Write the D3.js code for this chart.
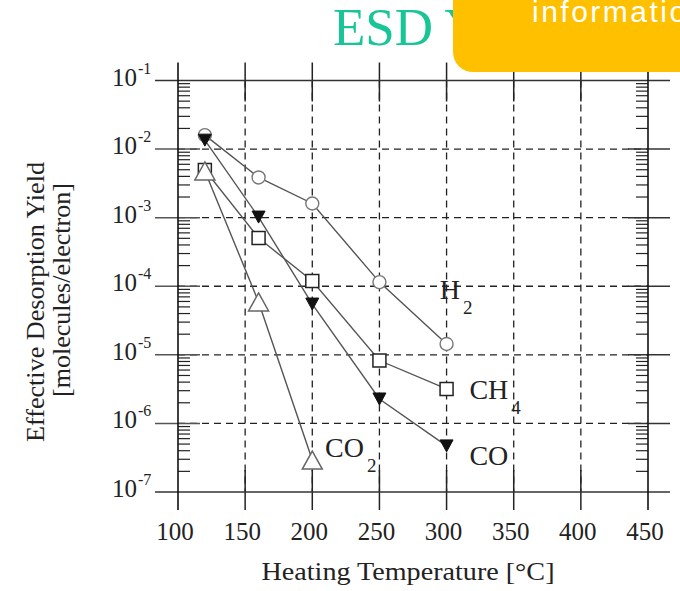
<!DOCTYPE html>
<html>
<head>
<meta charset="utf-8">
<script src="https://cdn.jsdelivr.net/npm/d3@7"></script>
<style>
  body { margin: 0; background: #fff; }
  svg { display: block; }
</style>
</head>
<body>
<svg id="chart" width="680" height="591"></svg>
<script>
// temperatures (deg C) and yields (molecules/electron)
var tempsH2 = [120, 160, 200, 250, 300];
var yieldH2 = [1.6e-2, 3.86e-3, 1.61e-3, 1.15e-4, 1.44e-5];

var tempsCH4 = [120, 160, 200, 250, 300];
var yieldCH4 = [4.95e-3, 5.06e-4, 1.19e-4, 8.26e-6, 3.18e-6];

var tempsCO = [120, 160, 200, 250, 300];
var yieldCO = [1.35e-2, 1.02e-3, 5.5e-5, 2.27e-6, 4.7e-7];

var tempsCO2 = [120, 160, 200];
var yieldCO2 = [4.8e-3, 5.9e-5, 2.92e-7];

var xTicks = [100, 150, 200, 250, 300, 350, 400, 450];
var yExps = [-1, -2, -3, -4, -5, -6, -7];

// label anchors in data space (temperature, yield)
var labelNames = ["H", "CH", "CO", "CO"];
var labelSubs = ["2", "4", "", "2"];
var labelTemps = [295, 317, 317, 209.5];
var labelYields = [6.5e-5, 2.26e-6, 2.45e-7, 3.2e-7];

var svg = d3.select("#chart");
var serif = "'Liberation Serif', 'Times New Roman', serif";

var x = d3.scaleLinear().domain([100, 450]).range([178, 648]);
var y = d3.scaleLog().domain([1e-7, 1e-1]).range([492, 80.5]);

var xLeft = x(100), xRight = x(450), yTop = y(1e-1), yBot = y(1e-7);

// title (partly hidden behind the banner)
svg.append("text")
    .attr("x", 333)
    .attr("y", 45)
    .attr("font-family", serif)
    .attr("font-size", 53)
    .attr("fill", "#17c596")
    .text("ESD Yield");

var g = svg.append("g");

// dashed grid
g.selectAll(".vgrid")
    .data(xTicks.slice(1, -1))
    .enter()
    .append("line")
    .attr("x1", function (d) { return x(d); })
    .attr("x2", function (d) { return x(d); })
    .attr("y1", yTop)
    .attr("y2", yBot)
    .attr("stroke", "#222")
    .attr("stroke-width", 1.3)
    .attr("stroke-dasharray", "7,5");

g.selectAll(".hgrid")
    .data(yExps.slice(1, -1))
    .enter()
    .append("line")
    .attr("x1", xLeft)
    .attr("x2", xRight)
    .attr("y1", function (d) { return y(Math.pow(10, d)); })
    .attr("y2", function (d) { return y(Math.pow(10, d)); })
    .attr("stroke", "#222")
    .attr("stroke-width", 1.3)
    .attr("stroke-dasharray", "7,5");

// solid major ticks at top and bottom
xTicks.slice(1, -1).forEach(function (t) {
    g.append("line").attr("x1", x(t)).attr("x2", x(t)).attr("y1", yTop - 18).attr("y2", yTop + 21)
        .attr("stroke", "#222").attr("stroke-width", 1.5);
    g.append("line").attr("x1", x(t)).attr("x2", x(t)).attr("y1", yBot - 22).attr("y2", yBot + 18)
        .attr("stroke", "#222").attr("stroke-width", 1.5);
});

// decade ticks left and right
yExps.slice(1, -1).forEach(function (e) {
    var yy = y(Math.pow(10, e));
    g.append("line").attr("x1", xLeft - 23).attr("x2", xLeft + 22).attr("y1", yy).attr("y2", yy)
        .attr("stroke", "#555").attr("stroke-width", 1.5);
    g.append("line").attr("x1", xRight - 20).attr("x2", xRight + 22).attr("y1", yy).attr("y2", yy)
        .attr("stroke", "#333").attr("stroke-width", 1.5);
});

// minor log ticks
var minor = [];
for (var e = -7; e < -1; e++) {
    for (var m = 2; m < 10; m++) minor.push(m * Math.pow(10, e));
}
g.selectAll(".minl")
    .data(minor)
    .enter()
    .append("line")
    .attr("x1", xLeft)
    .attr("x2", xLeft + 12)
    .attr("y1", function (d) { return y(d); })
    .attr("y2", function (d) { return y(d); })
    .attr("stroke", "#222")
    .attr("stroke-width", 1.2);
g.selectAll(".minr")
    .data(minor)
    .enter()
    .append("line")
    .attr("x1", xRight - 12)
    .attr("x2", xRight)
    .attr("y1", function (d) { return y(d); })
    .attr("y2", function (d) { return y(d); })
    .attr("stroke", "#222")
    .attr("stroke-width", 1.2);

// frame
g.append("line").attr("x1", xLeft - 23).attr("x2", xRight + 22).attr("y1", yTop).attr("y2", yTop)
    .attr("stroke", "#333").attr("stroke-width", 1.5);
g.append("line").attr("x1", xLeft - 23).attr("x2", xRight + 22).attr("y1", yBot).attr("y2", yBot)
    .attr("stroke", "#333").attr("stroke-width", 1.5);
g.append("line").attr("x1", xLeft).attr("x2", xLeft).attr("y1", yTop - 18).attr("y2", yBot + 18)
    .attr("stroke", "#111").attr("stroke-width", 1.6);
g.append("line").attr("x1", xRight).attr("x2", xRight).attr("y1", yTop - 18).attr("y2", yBot + 18)
    .attr("stroke", "#111").attr("stroke-width", 1.6);

// tick labels
g.selectAll(".xlab")
    .data(xTicks)
    .enter()
    .append("text")
    .attr("x", function (d) { return x(d) - 3; })
    .attr("y", 540)
    .attr("text-anchor", "middle")
    .attr("font-family", serif)
    .attr("font-size", 25)
    .attr("fill", "#222")
    .text(function (d) { return d; });

var ylab = g.selectAll(".ylab")
    .data(yExps)
    .enter()
    .append("g");
ylab.append("text")
    .attr("x", 137)
    .attr("y", function (d) { return y(Math.pow(10, d)) + 5; })
    .attr("text-anchor", "end")
    .attr("font-family", serif)
    .attr("font-size", 25)
    .attr("fill", "#222")
    .text("10");
ylab.append("text")
    .attr("x", 138)
    .attr("y", function (d) { return y(Math.pow(10, d)) - 7; })
    .attr("font-family", serif)
    .attr("font-size", 16)
    .attr("fill", "#222")
    .text(function (d) { return "-" + Math.abs(d); });

// axis titles
svg.append("text")
    .attr("x", 408)
    .attr("y", 580)
    .attr("text-anchor", "middle")
    .attr("font-family", serif)
    .attr("font-size", 25)
    .attr("fill", "#222")
    .attr("textLength", 293)
    .attr("lengthAdjust", "spacingAndGlyphs")
    .text("Heating Temperature [°C]");

svg.append("text")
    .attr("transform", "translate(44,302) rotate(-90)")
    .attr("text-anchor", "middle")
    .attr("font-family", serif)
    .attr("font-size", 26)
    .attr("fill", "#222")
    .attr("textLength", 280)
    .attr("lengthAdjust", "spacingAndGlyphs")
    .text("Effective Desorption Yield");

svg.append("text")
    .attr("transform", "translate(70,290) rotate(-90)")
    .attr("text-anchor", "middle")
    .attr("font-family", serif)
    .attr("font-size", 26)
    .attr("fill", "#222")
    .attr("textLength", 214)
    .attr("lengthAdjust", "spacingAndGlyphs")
    .text("[molecules/electron]");

// series lines
var series = [
    {t: tempsCH4, v: yieldCH4, marker: "square"},
    {t: tempsCO2, v: yieldCO2, marker: "triUp"},
    {t: tempsH2, v: yieldH2, marker: "circle"},
    {t: tempsCO, v: yieldCO, marker: "triDown"}
];

var line = d3.line()
    .x(function (d) { return x(d[0]); })
    .y(function (d) { return y(d[1]); });

series.forEach(function (s) {
    s.pts = s.t.map(function (t, i) { return [t, s.v[i]]; });
    g.append("path")
        .attr("d", line(s.pts))
        .attr("fill", "none")
        .attr("stroke", "#555")
        .attr("stroke-width", 1.4);
});

// markers
series.forEach(function (s) {
    var sel = g.append("g")
        .selectAll("path")
        .data(s.pts)
        .enter()
        .append("path")
        .attr("transform", function (d) { return "translate(" + x(d[0]) + "," + y(d[1]) + ")"; });
    if (s.marker == "circle") {
        sel.attr("d", "M-6.5,0A6.5,6.5 0 1,0 6.5,0A6.5,6.5 0 1,0 -6.5,0Z")
            .attr("fill", "#fff").attr("stroke", "#777").attr("stroke-width", 1.4);
    } else if (s.marker == "square") {
        sel.attr("d", "M-6.5,-6.5H6.5V6.5H-6.5Z")
            .attr("fill", "#fff").attr("stroke", "#222").attr("stroke-width", 1.5);
    } else if (s.marker == "triUp") {
        sel.attr("d", "M0,-9L10,9H-10Z")
            .attr("fill", "#fff").attr("stroke", "#666").attr("stroke-width", 1.5);
    } else {
        sel.attr("d", "M-6.5,-6L6.5,-6L0,6Z")
            .attr("fill", "#111").attr("stroke", "#111").attr("stroke-width", 1);
    }
});

// series labels
labelNames.forEach(function (name, i) {
    var txt = g.append("text")
        .attr("x", x(labelTemps[i]))
        .attr("y", y(labelYields[i]))
        .attr("font-family", serif)
        .attr("font-size", 28)
        .attr("fill", "#222");
    txt.append("tspan").text(name);
    if (labelSubs[i]) {
        txt.append("tspan")
            .attr("dx", 3)
            .attr("dy", 15)
            .attr("font-size", 19)
            .text(labelSubs[i]);
    }
});

// banner overlapping the top right
svg.append("rect")
    .attr("x", 453)
    .attr("y", -30)
    .attr("width", 260)
    .attr("height", 102)
    .attr("rx", 20)
    .attr("fill", "#ffc000");

svg.append("text")
    .attr("x", 532)
    .attr("y", 22)
    .attr("font-family", "'Liberation Sans', Arial, sans-serif")
    .attr("font-size", 30)
    .attr("letter-spacing", 2.5)
    .attr("fill", "#fff")
    .text("information");
</script>
</body>
</html>
